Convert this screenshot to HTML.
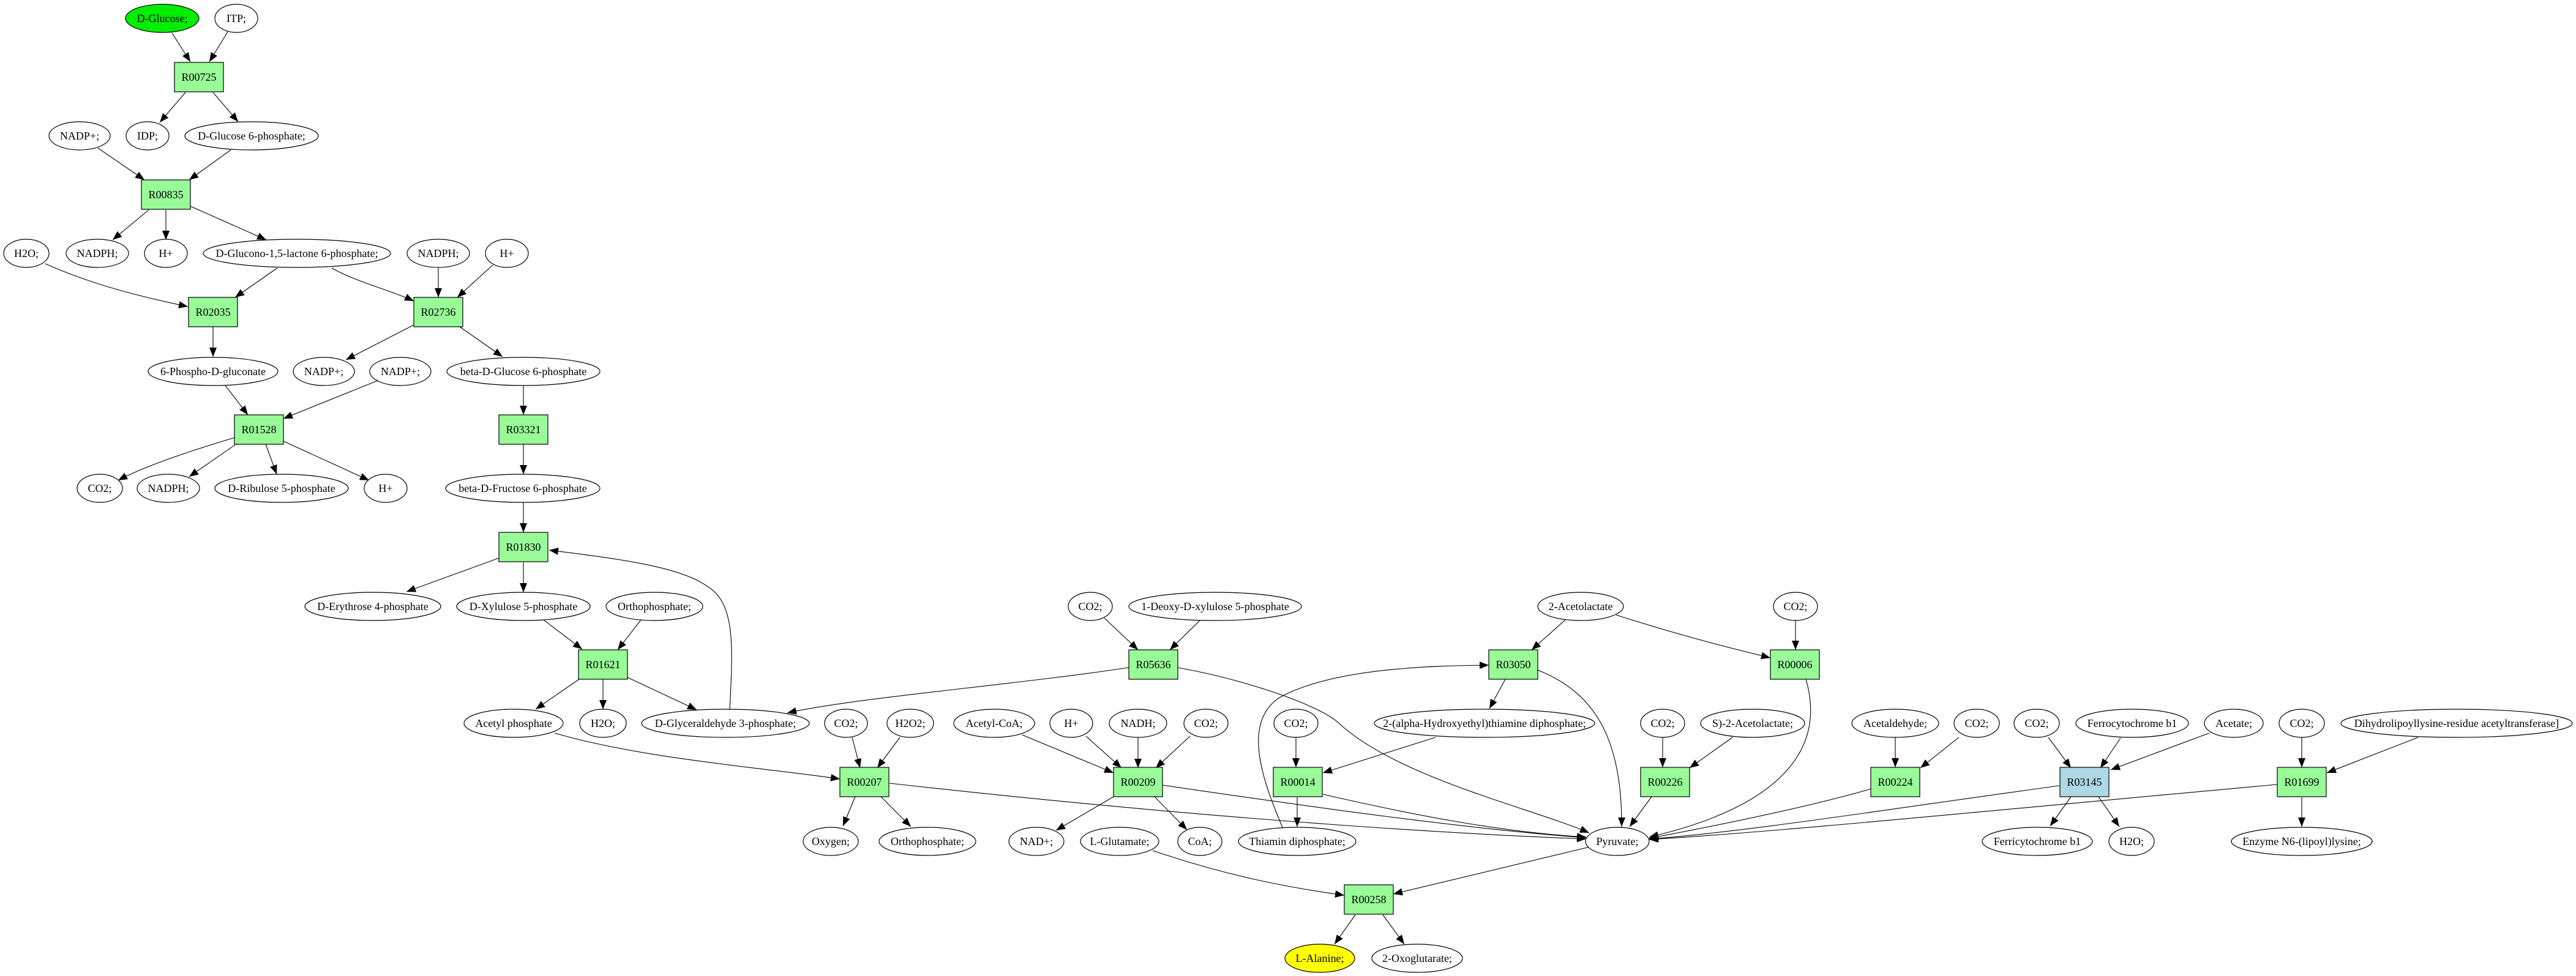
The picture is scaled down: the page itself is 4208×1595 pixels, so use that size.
<!DOCTYPE html>
<html><head><meta charset="utf-8"><style>
html,body{margin:0;padding:0;background:#fff;}
svg{display:block;}
text{font-family:"Liberation Serif",serif;font-size:18px;fill:#000;text-anchor:middle;dominant-baseline:central;}
ellipse{fill:#fff;stroke:#000;stroke-width:1.2;}
rect{fill:#98fb98;stroke:#000;stroke-width:1.2;}
path{fill:none;stroke:#000;stroke-width:1.1;marker-end:url(#a);}
</style></head><body>
<svg width="4208" height="1595" viewBox="0 0 4208 1595" xmlns="http://www.w3.org/2000/svg">
<defs><marker id="a" markerUnits="userSpaceOnUse" markerWidth="16" markerHeight="12" refX="15" refY="6" orient="auto"><polygon points="0,0 15,6 0,12" fill="#000"/></marker></defs>

<path d="M281,54 L311,101"/>
<path d="M372,52 L342,101"/>
<path d="M303,151 L261,200"/>
<path d="M348,151 L389,199"/>
<path d="M160,242 L236,294"/>
<path d="M377,245 L309,294"/>
<path d="M243,343 L184,392"/>
<path d="M271,343 L271,392"/>
<path d="M311,337 L435,392"/>
<path d="M74,431 C150,465 230,485 307,501"/>
<path d="M453,438 L384,486"/>
<path d="M542,438 C580,460 640,475 676,492"/>
<path d="M716,438 L716,486"/>
<path d="M805,433 L747,486"/>
<path d="M348,534 L348,583"/>
<path d="M676,531 L565,588"/>
<path d="M751,534 L821,583"/>
<path d="M368,630 L405,678"/>
<path d="M617,622 L463,684"/>
<path d="M855,630 L855,678"/>
<path d="M384,715 C300,740 230,765 193,785"/>
<path d="M384,727 L309,779"/>
<path d="M434,726 L452,775"/>
<path d="M463,721 L603,785"/>
<path d="M855,726 L855,775"/>
<path d="M855,821 L855,870"/>
<path d="M815,912 L664,967"/>
<path d="M855,919 L855,968"/>
<path d="M1192,1160 C1198,1050 1200,985 1155,958 C1110,925 1000,912 897,899"/>
<path d="M888,1013 L951,1061"/>
<path d="M1047,1013 L1009,1062"/>
<path d="M946,1110 L875,1159"/>
<path d="M985,1110 L985,1159"/>
<path d="M1025,1107 L1138,1160"/>
<path d="M906,1198 C1050,1240 1250,1255 1372,1273"/>
<path d="M1844,1091 C1650,1120 1400,1140 1286,1165"/>
<path d="M1924,1091 C2030,1110 2150,1150 2185,1180 C2280,1270 2500,1320 2596,1361"/>
<path d="M1804,1010 L1859,1062"/>
<path d="M1960,1014 L1911,1062"/>
<path d="M2557,1013 L2502,1062"/>
<path d="M2640,1005 C2750,1040 2830,1060 2892,1075"/>
<path d="M2933,1014 L2933,1062"/>
<path d="M2459,1110 L2433,1158"/>
<path d="M2512,1095 C2600,1130 2650,1200 2649,1351"/>
<path d="M2095,1352 C2060,1270 2030,1180 2090,1140 C2180,1090 2350,1088 2432,1087"/>
<path d="M2345,1205 L2161,1263"/>
<path d="M2117,1205 L2117,1254"/>
<path d="M2119,1303 L2119,1351"/>
<path d="M2161,1298 C2300,1330 2450,1360 2591,1368"/>
<path d="M1899,1283 C2150,1320 2400,1355 2591,1369"/>
<path d="M1453,1280 C1900,1330 2300,1360 2591,1371"/>
<path d="M1819,1302 L1725,1357"/>
<path d="M1886,1302 L1939,1356"/>
<path d="M1670,1201 L1819,1263"/>
<path d="M1774,1203 L1832,1255"/>
<path d="M1859,1205 L1859,1255"/>
<path d="M1944,1203 L1888,1255"/>
<path d="M1392,1205 L1405,1255"/>
<path d="M1470,1205 L1433,1255"/>
<path d="M1397,1302 L1377,1350"/>
<path d="M1439,1302 L1488,1351"/>
<path d="M1883,1390 C2000,1430 2100,1450 2196,1463"/>
<path d="M2597,1384 L2276,1461"/>
<path d="M2214,1495 L2180,1543"/>
<path d="M2259,1495 L2294,1543"/>
<path d="M2716,1205 L2716,1254"/>
<path d="M2830,1205 L2760,1255"/>
<path d="M2698,1302 L2662,1351"/>
<path d="M2950,1110 C2985,1230 2900,1320 2694,1368"/>
<path d="M3057,1289 C2950,1320 2800,1350 2694,1370"/>
<path d="M3364,1284 C3100,1320 2850,1360 2694,1371"/>
<path d="M3720,1282 C3300,1320 2900,1360 2694,1372"/>
<path d="M3096,1205 L3096,1254"/>
<path d="M3200,1205 L3137,1255"/>
<path d="M3346,1205 L3383,1255"/>
<path d="M3464,1206 L3431,1255"/>
<path d="M3609,1198 L3448,1258"/>
<path d="M3383,1302 L3349,1350"/>
<path d="M3428,1302 L3462,1351"/>
<path d="M3760,1205 L3760,1254"/>
<path d="M3950,1205 L3801,1263"/>
<path d="M3760,1303 L3760,1351"/>

<g>
<ellipse cx="265" cy="30" rx="60" ry="23" style="fill:#00ee00"/><text x="265" y="30">D-Glucose;</text>
<ellipse cx="386" cy="30" rx="35" ry="23"/><text x="386" y="30">ITP;</text>
<ellipse cx="130" cy="222" rx="50" ry="23"/><text x="130" y="222">NADP+;</text>
<ellipse cx="241" cy="222" rx="35" ry="23"/><text x="241" y="222">IDP;</text>
<ellipse cx="411" cy="222" rx="109" ry="23"/><text x="411" y="222">D-Glucose 6-phosphate;</text>
<ellipse cx="43" cy="414" rx="37" ry="23"/><text x="43" y="414">H2O;</text>
<ellipse cx="159" cy="414" rx="51" ry="23"/><text x="159" y="414">NADPH;</text>
<ellipse cx="271" cy="414" rx="35" ry="23"/><text x="271" y="414">H+</text>
<ellipse cx="485" cy="414" rx="153" ry="23"/><text x="485" y="414">D-Glucono-1,5-lactone 6-phosphate;</text>
<ellipse cx="716" cy="414" rx="51" ry="23"/><text x="716" y="414">NADPH;</text>
<ellipse cx="828" cy="414" rx="35" ry="23"/><text x="828" y="414">H+</text>
<ellipse cx="348" cy="607" rx="106" ry="23"/><text x="348" y="607">6-Phospho-D-gluconate</text>
<ellipse cx="529" cy="607" rx="50" ry="23"/><text x="529" y="607">NADP+;</text>
<ellipse cx="654" cy="607" rx="50" ry="23"/><text x="654" y="607">NADP+;</text>
<ellipse cx="855" cy="607" rx="125" ry="23"/><text x="855" y="607">beta-D-Glucose 6-phosphate</text>
<ellipse cx="163" cy="798" rx="37" ry="23"/><text x="163" y="798">CO2;</text>
<ellipse cx="275" cy="798" rx="51" ry="23"/><text x="275" y="798">NADPH;</text>
<ellipse cx="460" cy="798" rx="109" ry="23"/><text x="460" y="798">D-Ribulose 5-phosphate</text>
<ellipse cx="630" cy="798" rx="35" ry="23"/><text x="630" y="798">H+</text>
<ellipse cx="854" cy="798" rx="126" ry="23"/><text x="854" y="798">beta-D-Fructose 6-phosphate</text>
<ellipse cx="609" cy="991" rx="111" ry="23"/><text x="609" y="991">D-Erythrose 4-phosphate</text>
<ellipse cx="855" cy="991" rx="109" ry="23"/><text x="855" y="991">D-Xylulose 5-phosphate</text>
<ellipse cx="1069" cy="991" rx="79" ry="23"/><text x="1069" y="991">Orthophosphate;</text>
<ellipse cx="1781" cy="991" rx="36" ry="23"/><text x="1781" y="991">CO2;</text>
<ellipse cx="1985" cy="991" rx="141" ry="23"/><text x="1985" y="991">1-Deoxy-D-xylulose 5-phosphate</text>
<ellipse cx="2582" cy="991" rx="70" ry="23"/><text x="2582" y="991">2-Acetolactate</text>
<ellipse cx="2933" cy="991" rx="36" ry="23"/><text x="2933" y="991">CO2;</text>
<ellipse cx="839" cy="1182" rx="81" ry="23"/><text x="839" y="1182">Acetyl phosphate</text>
<ellipse cx="985" cy="1182" rx="38" ry="23"/><text x="985" y="1182">H2O;</text>
<ellipse cx="1185" cy="1182" rx="137" ry="23"/><text x="1185" y="1182">D-Glyceraldehyde 3-phosphate;</text>
<ellipse cx="1382" cy="1182" rx="35" ry="23"/><text x="1382" y="1182">CO2;</text>
<ellipse cx="1487" cy="1182" rx="38" ry="23"/><text x="1487" y="1182">H2O2;</text>
<ellipse cx="1624" cy="1182" rx="66" ry="23"/><text x="1624" y="1182">Acetyl-CoA;</text>
<ellipse cx="1750" cy="1182" rx="35" ry="23"/><text x="1750" y="1182">H+</text>
<ellipse cx="1859" cy="1182" rx="47" ry="23"/><text x="1859" y="1182">NADH;</text>
<ellipse cx="1970" cy="1182" rx="36" ry="23"/><text x="1970" y="1182">CO2;</text>
<ellipse cx="2117" cy="1182" rx="36" ry="23"/><text x="2117" y="1182">CO2;</text>
<ellipse cx="2425" cy="1182" rx="180" ry="23"/><text x="2425" y="1182">2-(alpha-Hydroxyethyl)thiamine diphosphate;</text>
<ellipse cx="2716" cy="1182" rx="36" ry="23"/><text x="2716" y="1182">CO2;</text>
<ellipse cx="2863" cy="1182" rx="85" ry="23"/><text x="2863" y="1182">S)-2-Acetolactate;</text>
<ellipse cx="3096" cy="1182" rx="71" ry="23"/><text x="3096" y="1182">Acetaldehyde;</text>
<ellipse cx="3229" cy="1182" rx="37" ry="23"/><text x="3229" y="1182">CO2;</text>
<ellipse cx="3327" cy="1182" rx="37" ry="23"/><text x="3327" y="1182">CO2;</text>
<ellipse cx="3483" cy="1182" rx="92" ry="23"/><text x="3483" y="1182">Ferrocytochrome b1</text>
<ellipse cx="3649" cy="1182" rx="48" ry="23"/><text x="3649" y="1182">Acetate;</text>
<ellipse cx="3760" cy="1182" rx="37" ry="23"/><text x="3760" y="1182">CO2;</text>
<ellipse cx="4013" cy="1182" rx="189" ry="23"/><text x="4013" y="1182">Dihydrolipoyllysine-residue acetyltransferase]</text>
<ellipse cx="1357" cy="1375" rx="45" ry="23"/><text x="1357" y="1375">Oxygen;</text>
<ellipse cx="1515" cy="1375" rx="79" ry="23"/><text x="1515" y="1375">Orthophosphate;</text>
<ellipse cx="1693" cy="1375" rx="45" ry="23"/><text x="1693" y="1375">NAD+;</text>
<ellipse cx="1829" cy="1375" rx="64" ry="23"/><text x="1829" y="1375">L-Glutamate;</text>
<ellipse cx="1960" cy="1375" rx="36" ry="23"/><text x="1960" y="1375">CoA;</text>
<ellipse cx="2119" cy="1375" rx="96" ry="23"/><text x="2119" y="1375">Thiamin diphosphate;</text>
<ellipse cx="2642" cy="1375" rx="52" ry="23"/><text x="2642" y="1375">Pyruvate;</text>
<ellipse cx="3328" cy="1375" rx="90" ry="23"/><text x="3328" y="1375">Ferricytochrome b1</text>
<ellipse cx="3482" cy="1375" rx="37" ry="23"/><text x="3482" y="1375">H2O;</text>
<ellipse cx="3760" cy="1375" rx="115" ry="23"/><text x="3760" y="1375">Enzyme N6-(lipoyl)lysine;</text>
<ellipse cx="2156" cy="1566" rx="57" ry="23" style="fill:#ffff00"/><text x="2156" y="1566">L-Alanine;</text>
<ellipse cx="2315" cy="1566" rx="74" ry="23"/><text x="2315" y="1566">2-Oxoglutarate;</text>
</g>

<g>
<rect x="285" y="102" width="80" height="48"/><text x="325" y="126">R00725</text>
<rect x="231" y="294" width="80" height="48"/><text x="271" y="318">R00835</text>
<rect x="308" y="486" width="80" height="48"/><text x="348" y="510">R02035</text>
<rect x="676" y="486" width="80" height="48"/><text x="716" y="510">R02736</text>
<rect x="383" y="678" width="80" height="48"/><text x="423" y="702">R01528</text>
<rect x="815" y="678" width="80" height="48"/><text x="855" y="702">R03321</text>
<rect x="815" y="870" width="80" height="48"/><text x="855" y="894">R01830</text>
<rect x="945" y="1062" width="80" height="48"/><text x="985" y="1086">R01621</text>
<rect x="1844" y="1062" width="80" height="48"/><text x="1884" y="1086">R05636</text>
<rect x="2432" y="1062" width="80" height="48"/><text x="2472" y="1086">R03050</text>
<rect x="2892" y="1062" width="80" height="48"/><text x="2932" y="1086">R00006</text>
<rect x="1372" y="1254" width="80" height="48"/><text x="1412" y="1278">R00207</text>
<rect x="1819" y="1254" width="80" height="48"/><text x="1859" y="1278">R00209</text>
<rect x="2080" y="1254" width="80" height="48"/><text x="2120" y="1278">R00014</text>
<rect x="2680" y="1254" width="80" height="48"/><text x="2720" y="1278">R00226</text>
<rect x="3056" y="1254" width="80" height="48"/><text x="3096" y="1278">R00224</text>
<rect x="3365" y="1254" width="80" height="48" style="fill:#add8e6"/><text x="3405" y="1278">R03145</text>
<rect x="3720" y="1254" width="80" height="48"/><text x="3760" y="1278">R01699</text>
<rect x="2196" y="1446" width="80" height="48"/><text x="2236" y="1470">R00258</text>
</g>
</svg>
</body></html>
